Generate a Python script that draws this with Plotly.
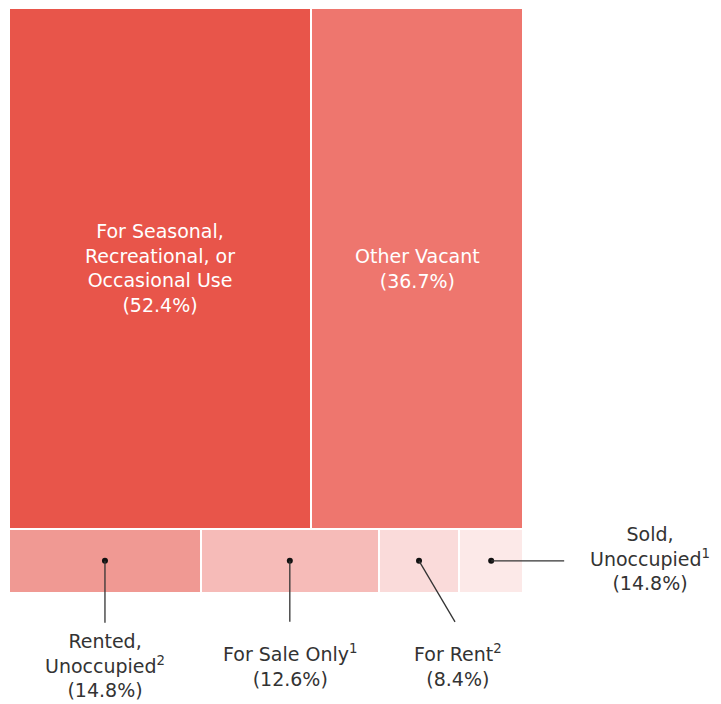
import plotly.graph_objects as go

# ---- data ----
top_labels = ["For Seasonal,<br>Recreational, or<br>Occasional Use", "Other Vacant"]
top_pct_text = ["52.4%", "36.7%"]
top_values = [52.4, 36.7]            # share of all vacant units (area)
top_colors = ["#E8554A", "#EE766E"]

bottom_labels = ["Rented,<br>Unoccupied<sup>2</sup>", "For Sale Only<sup>1</sup>",
                 "For Rent<sup>2</sup>", "Sold,<br>Unoccupied<sup>1</sup>"]
bottom_pct_text = ["14.8%", "12.6%", "8.4%", "14.8%"]
bottom_values = [4.07, 3.77, 1.71, 1.35]  # estimated area of each small tile
bottom_colors = ["#F09993", "#F6BBB8", "#FADBDA", "#FCE9E8"]

# ---- layout of tiles (slice/dice) computed from the data ----
top_total = sum(top_values)
bot_total = sum(bottom_values)
grand = top_total + bot_total

ys, widths, bases, lengths, colors = [], [], [], [], []
top_centers, bot_centers = [], []

row_h_top = top_total / grand * 100
row_h_bot = bot_total / grand * 100
cum = 0.0
for v, c in zip(top_values, top_colors):
    w = v / top_total * 100
    ys.append(row_h_bot + row_h_top / 2); widths.append(row_h_top)
    bases.append(cum); lengths.append(w); colors.append(c)
    top_centers.append((cum + w / 2, row_h_bot + row_h_top / 2))
    cum += w
cum = 0.0
for v, c in zip(bottom_values, bottom_colors):
    w = v / bot_total * 100
    ys.append(row_h_bot / 2); widths.append(row_h_bot)
    bases.append(cum); lengths.append(w); colors.append(c)
    bot_centers.append((cum + w / 2, row_h_bot / 2))
    cum += w

fig = go.Figure()
fig.add_trace(go.Bar(
    orientation="h", y=ys, x=lengths, base=bases, width=widths,
    marker=dict(color=colors, line=dict(color="white", width=2)),
    hoverinfo="skip", showlegend=False,
))

# dots at tile centres
fig.add_trace(go.Scatter(
    x=[c[0] for c in bot_centers], y=[c[1] for c in bot_centers],
    mode="markers", marker=dict(color="#111111", size=6),
    hoverinfo="skip", showlegend=False, cliponaxis=False,
))

FONT = "DejaVu Sans"
FS = 19
annotations = []
for (cx, cy), lab, pct in zip(top_centers, top_labels, top_pct_text):
    annotations.append(dict(x=cx, y=cy, text=f"{lab}<br>({pct})", showarrow=False,
                            font=dict(family=FONT, size=FS, color="white"),
                            xanchor="center", yanchor="middle"))

# leader lines (pixel offsets from tile centre) and label offsets
leader = [(0, -62), (0, -61), (36, -61), (73, 0)]
label_shift = [(0, -67, "top"), (0, -78, "top"), (39, -78, "top"), (159, 2, "middle")]
shapes = []
for (cx, cy), (dx, dy), (sx, sy, ya), lab, pct in zip(bot_centers, leader, label_shift,
                                                       bottom_labels, bottom_pct_text):
    shapes.append(dict(type="line", xref="x", yref="y", xsizemode="pixel", ysizemode="pixel",
                       xanchor=cx, yanchor=cy, x0=0, y0=0, x1=dx, y1=dy,
                       line=dict(color="#333333", width=1.3)))
    annotations.append(dict(x=cx, y=cy, xshift=sx, yshift=sy, text=f"{lab}<br>({pct})",
                            showarrow=False, xanchor="center", yanchor=ya,
                            font=dict(family=FONT, size=FS, color="#333333")))

fig.update_layout(
    width=721, height=704, margin=dict(l=0, r=0, t=0, b=0),
    paper_bgcolor="white", plot_bgcolor="white",
    barmode="overlay", bargap=0,
    xaxis=dict(range=[-1.751, 138.52], visible=False, fixedrange=True),
    yaxis=dict(range=[-19.04, 101.37], visible=False, fixedrange=True),
    annotations=annotations, shapes=shapes,
)
fig.write_html("out.html")
